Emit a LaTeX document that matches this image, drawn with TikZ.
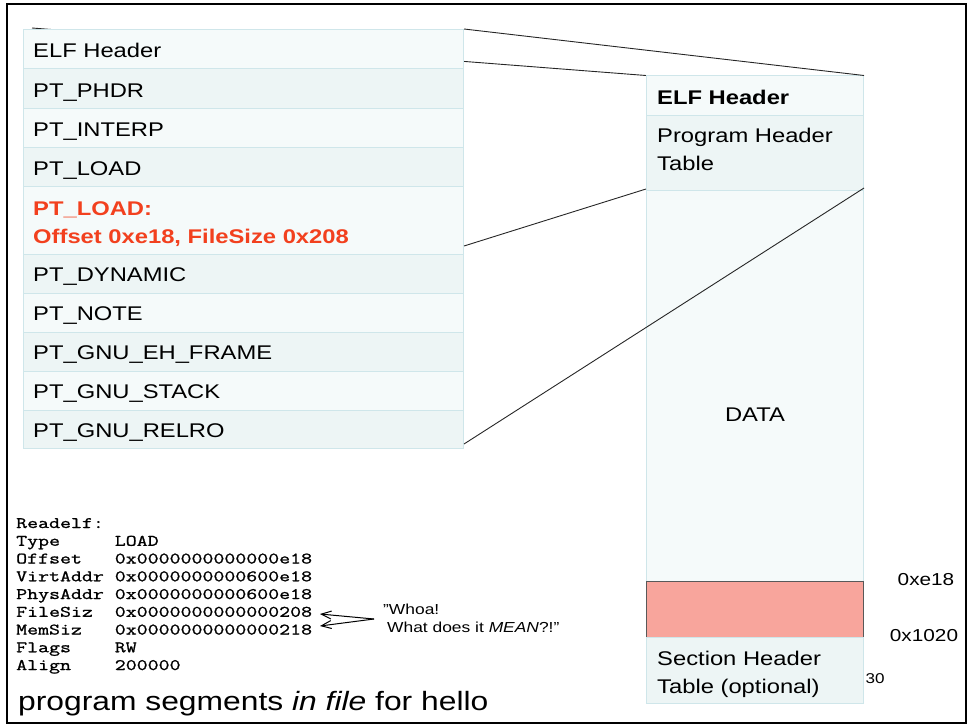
\documentclass[tikz,border=0pt]{standalone}
\usepackage{fontspec}
\setmainfont{Liberation Sans}[FakeStretch=1.2]
\newfontfamily\readelffont{Latin Modern Mono}[FakeStretch=1.33,FakeBold=1.2]
\usetikzlibrary{arrows.meta,calc}
\definecolor{cellA}{HTML}{F5FAFA}
\definecolor{cellB}{HTML}{EDF5F5}
\definecolor{cellline}{HTML}{CFE6EA}
\definecolor{loadred}{HTML}{F2401E}
\definecolor{segfill}{HTML}{F8A59C}
\begin{document}
\begin{tikzpicture}[x=1pt,y=-1pt,
  cellL/.style={draw=cellline, line width=1pt, anchor=north west,
    minimum width=440pt, inner sep=0pt},
  cellR/.style={draw=cellline, line width=1pt, anchor=north west,
    minimum width=217pt, inner sep=0pt},
  celltext/.style={anchor=base west, inner sep=0pt, align=left,
    font=\fontsize{19.8}{28}\selectfont},
  conn/.style={draw=black!85, line width=0.9pt},
  monoline/.style={anchor=base west, inner sep=0pt,
    font=\readelffont\fontsize{16}{17.75}\selectfont},
  label/.style={inner sep=0pt, font=\fontsize{17.3}{20}\selectfont},
  callout/.style={-{Straight Barb[length=10pt,width=8pt]}, line width=1pt}
]
\useasboundingbox (0,0) rectangle (969,725);
\draw[line width=2pt] (7,4.5) rectangle (966,722.5);

% connector hidden behind the left table
\coordinate (lt) at (32,28);
\coordinate (rtl) at (646,75.5);
\draw[conn] (lt) -- (rtl);

% left table: program header entries
\node[cellL, fill=cellA, minimum height=39pt] (l1) at (23,29) {};
\node[cellL, fill=cellB, minimum height=40pt] (l2) at (23,68) {};
\node[cellL, fill=cellA, minimum height=39pt] (l3) at (23,108) {};
\node[cellL, fill=cellB, minimum height=39pt] (l4) at (23,147) {};
\node[cellL, fill=cellA, minimum height=68pt] (l5) at (23,186) {};
\node[cellL, fill=cellB, minimum height=39pt] (l6) at (23,254) {};
\node[cellL, fill=cellA, minimum height=39pt] (l7) at (23,293) {};
\node[cellL, fill=cellB, minimum height=39pt] (l8) at (23,332) {};
\node[cellL, fill=cellA, minimum height=39pt] (l9) at (23,371) {};
\node[cellL, fill=cellB, minimum height=38pt] (l10) at (23,410) {};

\node[celltext] (t1) at (33,58) {ELF Header};
\node[celltext] (t2) at (33,97) {PT\_PHDR};
\node[celltext] (t3) at (33,136) {PT\_INTERP};
\node[celltext] (t4) at (33,175) {PT\_LOAD};
\node[celltext, text=loadred, font=\bfseries\fontsize{19.8}{28}\selectfont] (t5) at (33,243)
  {PT\_LOAD:\\Offset 0xe18, FileSize 0x208};
\node[celltext] (t6) at (33,281) {PT\_DYNAMIC};
\node[celltext] (t7) at (33,320) {PT\_NOTE};
\node[celltext] (t8) at (33,359) {PT\_GNU\_EH\_FRAME};
\node[celltext] (t9) at (33,398) {PT\_GNU\_STACK};
\node[celltext] (t10) at (33,437) {PT\_GNU\_RELRO};

% right box: ELF file layout
\node[cellR, fill=cellA, minimum height=39.5pt] (r1) at (646,75.5) {};
\node[cellR, fill=cellB, minimum height=75pt] (r2) at (646,115) {};
\node[cellR, fill=cellA, minimum height=391pt] (r3) at (646,190) {};
\node[draw=black!65, line width=0.8pt, fill=segfill, anchor=north west,
  minimum width=217pt, minimum height=56pt, inner sep=0pt] (r4) at (646,581) {};
\node[cellR, fill=cellB, minimum height=66pt] (r5) at (646,637) {};

\node[celltext, font=\bfseries\fontsize{19.8}{28}\selectfont] (s1) at (657,104) {ELF Header};
\node[celltext] (s2) at (657,170) {Program Header\\Table};
\node[font=\fontsize{19.8}{24}\selectfont, inner sep=0pt] (datalbl) at (755,415) {DATA};
\node[celltext] (s5) at (657,693) {Section Header\\Table (optional)};

% connectors
\draw[conn] (l1.north east) -- (r1.north east);
\coordinate (lredpt) at ($(l5.south east)+(0,-9)$);
\coordinate (rphtL) at ($(r2.south west)+(0,-2)$);
\draw[conn] (lredpt) -- (rphtL);
\coordinate (lrelpt) at ($(l10.south east)+(0,-5)$);
\coordinate (rphtR) at ($(r2.south east)+(0,-3)$);
\draw[conn] (lrelpt) -- (rphtR);

% offset labels
\node[label] (o1) at (926,580) {0xe18};
\node[label] (o2) at (924,636) {0x1020};
\node[inner sep=0pt, font=\fontsize{14.2}{16}\selectfont] (o3) at (875,679) {30};

% readelf output
\node[monoline] (m0) at (16,528) {Readelf:};
\node[monoline] (m1) at (16,545.75) {Type\ \ \ \ \ LOAD};
\node[monoline] (m2) at (16,563.5) {Offset\ \ \ 0x0000000000000e18};
\node[monoline] (m3) at (16,581.25) {VirtAddr\ 0x0000000000600e18};
\node[monoline] (m4) at (16,599) {PhysAddr\ 0x0000000000600e18};
\node[monoline] (m5) at (16,616.75) {FileSiz\ \ 0x0000000000000208};
\node[monoline] (m6) at (16,634.5) {MemSiz\ \ \ 0x0000000000000218};
\node[monoline] (m7) at (16,652.25) {Flags\ \ \ \ RW};
\node[monoline] (m8) at (16,670) {Align\ \ \ \ 200000};

% callout
\node[anchor=north west, inner sep=0pt, align=left,
  font=\fontsize{14.5}{18}\selectfont] (quote) at (383,604)
  {\symbol{34}Whoa!\\\hspace{4pt}What does it \textit{MEAN}?!\symbol{34}};
\coordinate (conv) at (374,619);
\coordinate (fsEnd) at (320,614);
\coordinate (msEnd) at (320,626);
\draw[callout] (conv) -- (fsEnd);
\draw[callout] (conv) -- (msEnd);

% title
\node[anchor=base west, inner sep=0pt, font=\fontsize{26.5}{30}\selectfont] (title) at (18,710)
  {program segments \textit{in file} for hello};
\end{tikzpicture}
\end{document}
